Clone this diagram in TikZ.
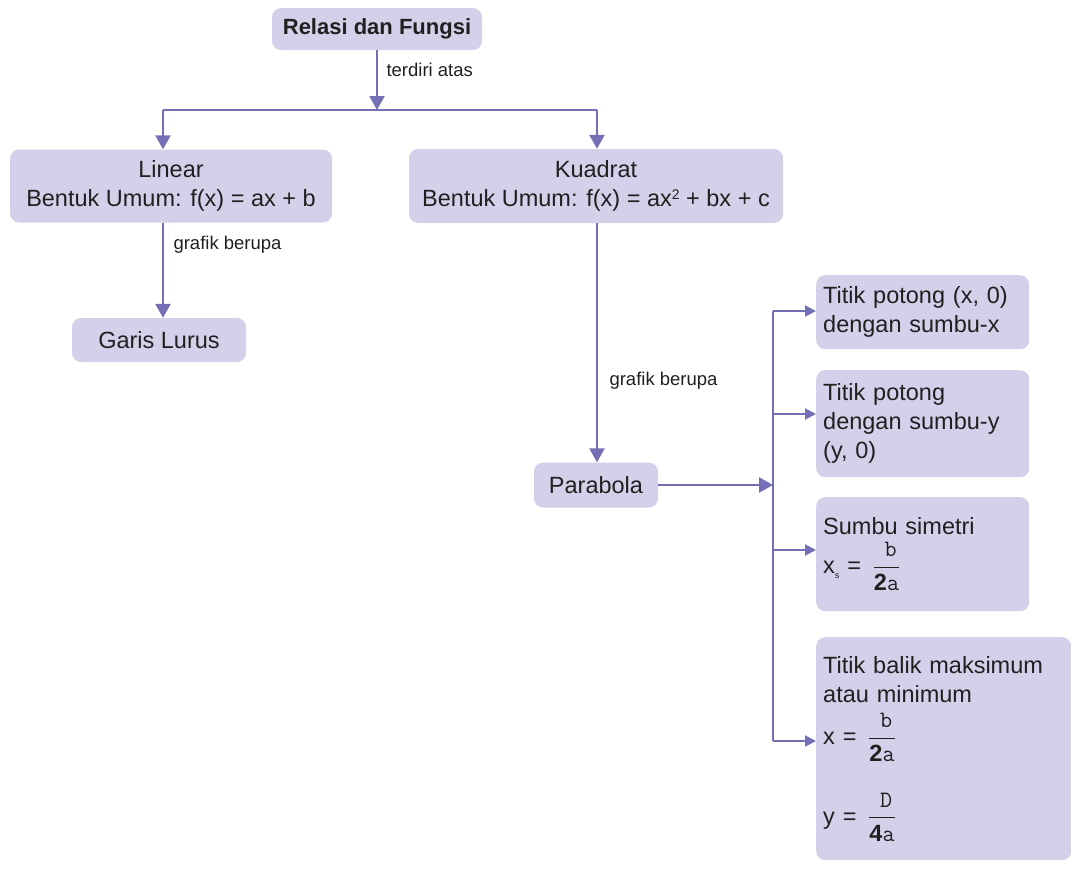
\documentclass[tikz,border=0pt]{standalone}
\usepackage{amsmath}
\usepackage{fontspec}
\setmainfont{Liberation Sans}
\usetikzlibrary{arrows.meta}
\definecolor{boxfill}{HTML}{D3D1EA}
\definecolor{linkcol}{HTML}{7470B6}
\definecolor{inkcol}{HTML}{231F20}
\newcommand{\vfrac}[2]{$\dfrac{\hspace{8pt}\text{\ttfamily #1}}{\text{\bfseries #2}\text{\ttfamily a}}$}
\tikzset{
  conbox/.style={rectangle, rounded corners=9pt, fill=boxfill, text=inkcol,
    inner sep=4pt, font=\fontsize{23.5}{29}\selectfont},
  sidebox/.style={conbox, anchor=north west, align=left, text width=#1, inner sep=7pt},
  linklabel/.style={anchor=west, text=inkcol, font=\fontsize{18.5}{22}\selectfont},
  link/.style={draw=linkcol, line width=2.6pt},
  arr/.style={link, -{Triangle[width=15pt,length=14pt]}},
  arrsmall/.style={link, line width=2pt, -{Triangle[width=11pt,length=11pt]}}
}
\begin{document}
\begin{tikzpicture}[x=1pt, y=-1pt]
    \useasboundingbox (0,0) rectangle (1071,868);
    % top level
    \node [conbox, minimum width=210pt, minimum height=42pt,
           font=\fontsize{22}{26}\selectfont\bfseries] (relasi) at (377,29) {Relasi dan Fungsi};
    \coordinate (split) at (377,110);
    \coordinate (lsplit) at (163,110);
    \coordinate (rsplit) at (597,110);

    % the two kinds
    \node [conbox, align=center, minimum width=322pt, minimum height=73pt] (linear) at (171,186)
        {Linear\\Bentuk Umum: f(x) = ax + b};
    \node [conbox, align=center, minimum width=374pt, minimum height=74pt] (kuadrat) at (596,186)
        {Kuadrat\\Bentuk Umum: f(x) = ax\raisebox{7pt}{\fontsize{14}{14}\selectfont 2} + bx + c};

    \node [conbox, minimum width=174pt, minimum height=44pt] (garis) at (159,340) {Garis Lurus};
    \node [conbox, minimum width=124pt, minimum height=45pt] (parabola) at (596,485) {Parabola};

    % properties of the parabola
    \node [sidebox=199pt, minimum height=74pt] (potongx) at (816,275)
        {Titik potong (x, 0)\\dengan sumbu-x};
    \node [sidebox=199pt, minimum height=107pt] (potongy) at (816,370)
        {Titik potong\\dengan sumbu-y\\(y, 0)};
    \node [sidebox=199pt, minimum height=114pt] (simetri) at (816,497)
        {Sumbu simetri\\[6pt]
         x\raisebox{-5pt}{\fontsize{9}{9}\selectfont s} =\, \vfrac{b}{2}};
    \node [sidebox=241pt, minimum height=223pt] (balik) at (816,637)
        {Titik balik maksimum\\atau minimum\\[10pt]
         x =\, \vfrac{b}{2}\\[30pt]
         y =\, \vfrac{D}{4}};

    % connectors
    \draw [arr] (relasi) -- (split);
    \draw [link] (lsplit) -- (rsplit);
    \draw [arr] (lsplit) -- (lsplit |- linear.north);
    \draw [arr] (rsplit) -- (rsplit |- kuadrat.north);
    \node [linklabel] (terdiri) at (383,70) {terdiri atas};

    \draw [arr] (lsplit |- linear.south) -- (lsplit |- garis.north);
    \node [linklabel] (grafikl) at (170,245) {grafik berupa};
    \draw [arr] (rsplit |- kuadrat.south) -- (rsplit |- parabola.north);
    \node [linklabel] (grafikk) at (606,381) {grafik berupa};

    \coordinate (bus) at (773,485);
    \coordinate (bus1) at (773,311);
    \coordinate (bus2) at (773,414);
    \coordinate (bus3) at (773,550);
    \coordinate (bus4) at (773,741);
    \draw [arr] (parabola) -- (bus);
    \draw [link] (bus1) -- (bus4);
    \draw [arrsmall] (bus1) -- (bus1 -| potongx.west);
    \draw [arrsmall] (bus2) -- (bus2 -| potongy.west);
    \draw [arrsmall] (bus3) -- (bus3 -| simetri.west);
    \draw [arrsmall] (bus4) -- (bus4 -| balik.west);
\end{tikzpicture}
\end{document}
